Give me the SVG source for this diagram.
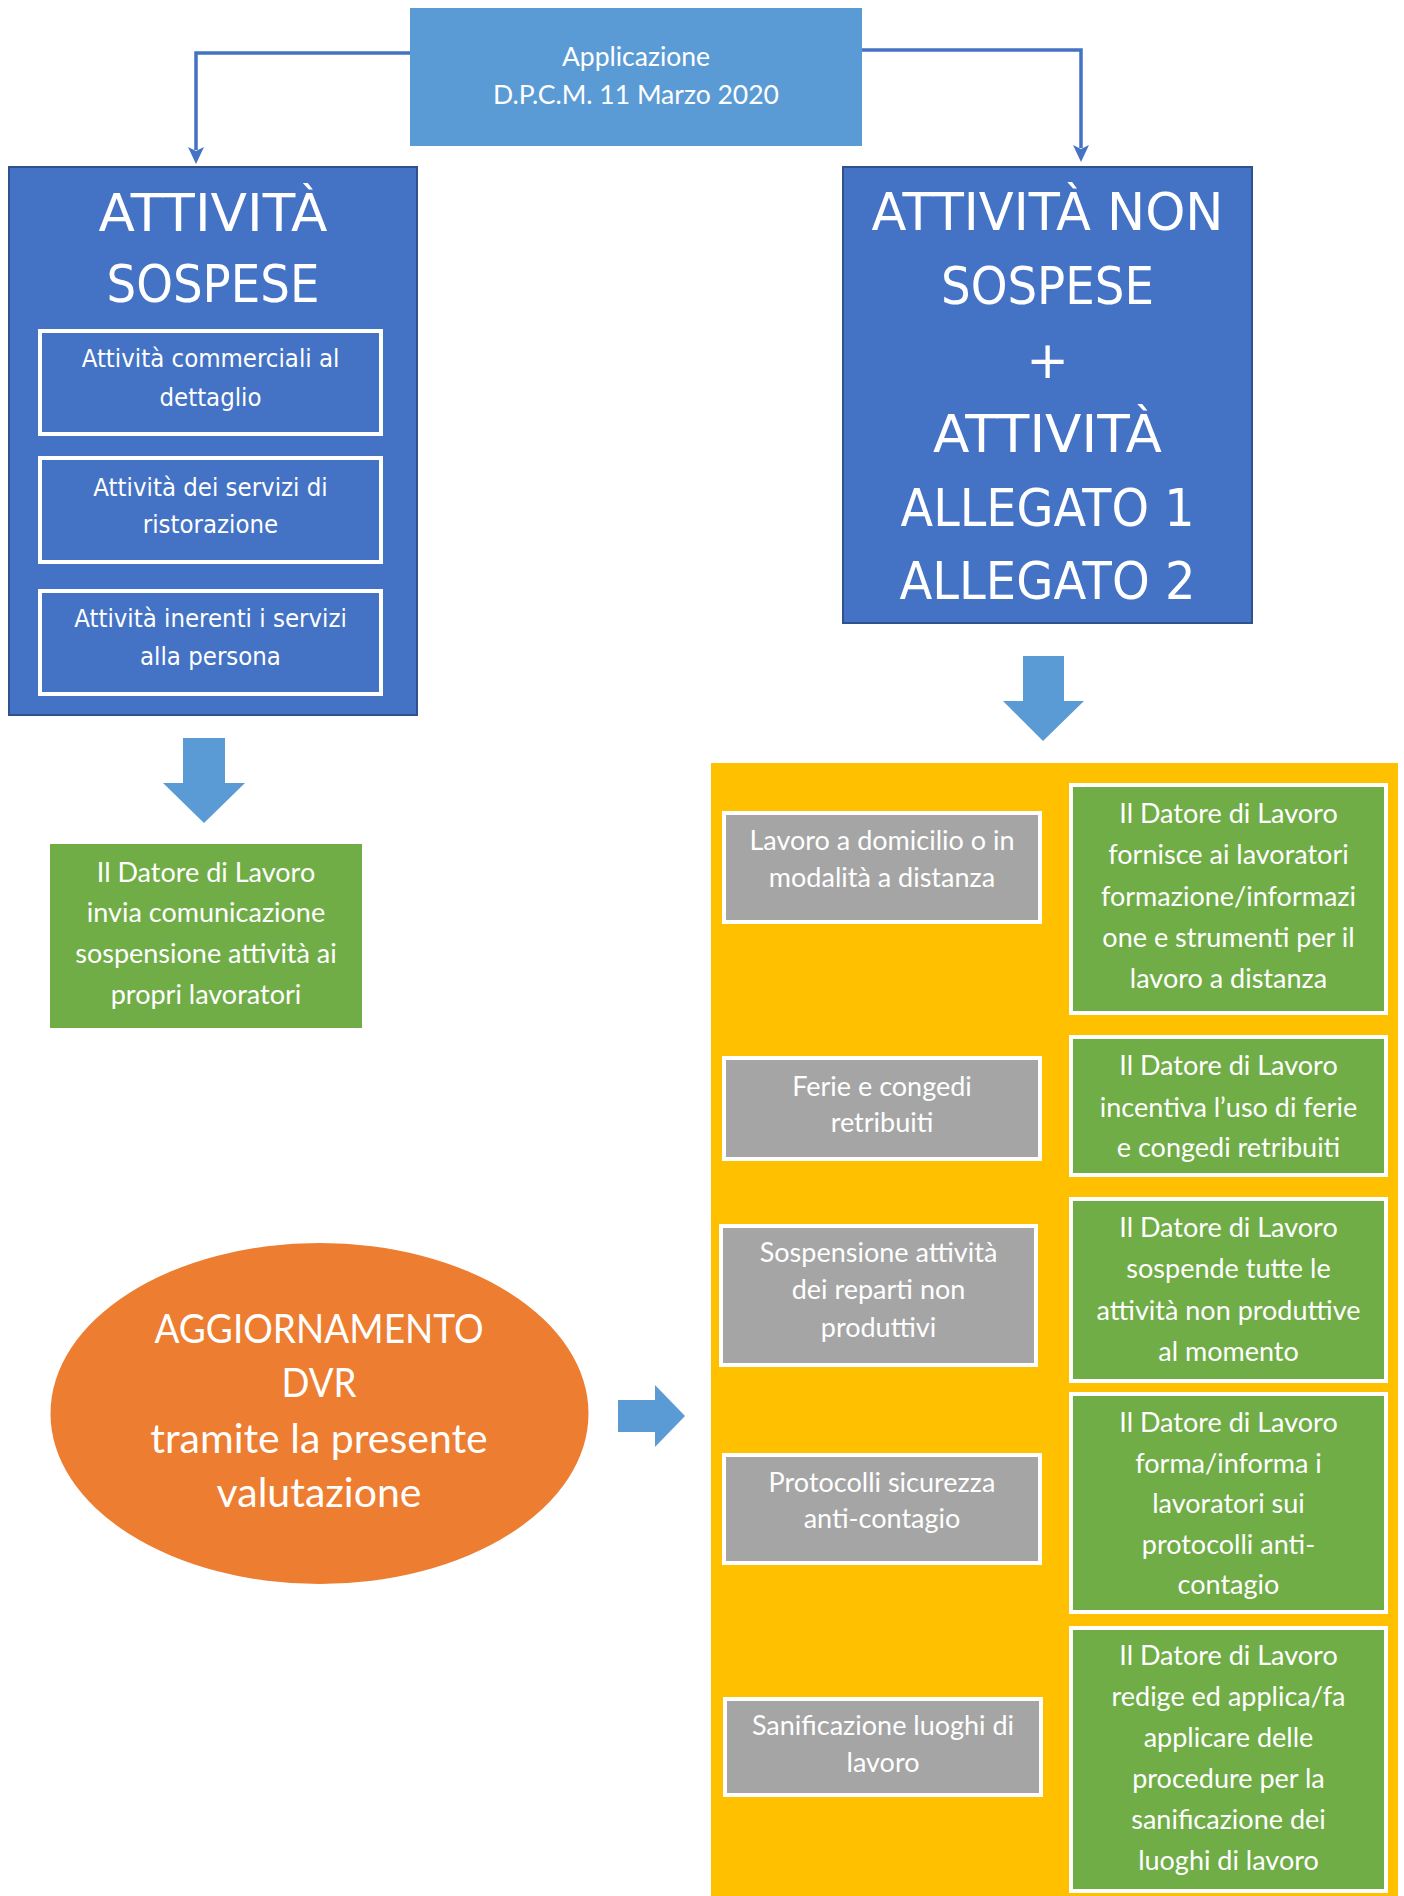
<svg xmlns="http://www.w3.org/2000/svg" width="1404" height="1896" viewBox="0 0 1404 1896">
<style>
.cal{font-family:Lato,'Noto Sans',sans-serif;fill:#fff;text-anchor:middle}
.tah{font-family:'DejaVu Sans Condensed','DejaVu Sans',sans-serif;font-stretch:condensed;fill:#fff;text-anchor:middle}
.ver{font-family:'DejaVu Sans',sans-serif;fill:#fff;text-anchor:middle}
.t29{font-size:27px}
.sub{font-size:25.5px}
.title{font-size:51px}
.big{fill:#4472C4;stroke:#2F528F;stroke-width:2}
.wb{fill:none;stroke:#fff;stroke-width:4}
.gray{fill:#A5A5A5;stroke:#fff;stroke-width:4}
.green{fill:#70AD47;stroke:#fff;stroke-width:4}
.barrow{fill:#5B9BD5}
.conn{fill:none;stroke:#4472C4;stroke-width:3.5}
.head{fill:#4472C4}
</style>
<rect width="1404" height="1896" fill="#fff"/>

<g id="connectors">
<path class="conn" d="M410,53 H196 V150"/>
<path class="conn" d="M862,50 H1081 V148"/>
<polygon class="head" points="188,147 196,151 204,147 196,164"/>
<polygon class="head" points="1073,145 1081,149 1089,145 1081,162"/>
<polygon class="barrow" points="183,738 225,738 225,783 245,783 204,823 163,783 183,783"/>
<polygon class="barrow" points="1023,656 1064,656 1064,701 1084,701 1043,741 1003,701 1023,701"/>
<polygon class="barrow" points="618,1400 655,1400 655,1385 685,1416 655,1447 655,1432 618,1432"/>
</g>

<g id="applicazione">
<rect x="410" y="8" width="452" height="138" fill="#5B9BD5"/>
<text class="cal" font-size="26.5" x="636" y="66">Applicazione</text>
<text class="cal" font-size="26.5" x="636" y="104">D.P.C.M. 11 Marzo 2020</text>
</g>

<g id="attivita-sospese">
<rect class="big" x="9" y="167" width="408" height="548"/>
<text class="ver title" x="213" y="231" textLength="229" lengthAdjust="spacingAndGlyphs">ATTIVITÀ</text>
<text class="ver title" x="213" y="302" textLength="213" lengthAdjust="spacingAndGlyphs">SOSPESE</text>
</g>
<g id="sospese-1">
<rect class="wb" x="40" y="331" width="341" height="103"/>
<text class="tah sub" x="210.5" y="367">Attività commerciali al</text>
<text class="tah sub" x="210.5" y="406">dettaglio</text>
</g>
<g id="sospese-2">
<rect class="wb" x="40" y="458" width="341" height="104"/>
<text class="tah sub" x="210.5" y="496">Attività dei servizi di</text>
<text class="tah sub" x="210.5" y="533">ristorazione</text>
</g>
<g id="sospese-3">
<rect class="wb" x="40" y="591" width="341" height="103"/>
<text class="tah sub" x="210.5" y="627">Attività inerenti i servizi</text>
<text class="tah sub" x="210.5" y="665">alla persona</text>
</g>

<g id="attivita-non-sospese">
<rect class="big" x="843" y="167" width="409" height="456"/>
<text class="ver title" x="1047.5" y="230" textLength="352" lengthAdjust="spacingAndGlyphs">ATTIVITÀ NON</text>
<text class="ver title" x="1047.5" y="304" textLength="213" lengthAdjust="spacingAndGlyphs">SOSPESE</text>
<text class="ver title" x="1047.5" y="378">+</text>
<text class="ver title" x="1047.5" y="452" textLength="229" lengthAdjust="spacingAndGlyphs">ATTIVITÀ</text>
<text class="ver title" x="1047.5" y="526" textLength="294" lengthAdjust="spacingAndGlyphs">ALLEGATO 1</text>
<text class="ver title" x="1047.5" y="599" textLength="296" lengthAdjust="spacingAndGlyphs">ALLEGATO 2</text>
</g>

<g id="comunicazione">
<rect x="50" y="844" width="312" height="184" fill="#70AD47"/>
<text class="cal t29" x="206" y="882">Il Datore di Lavoro</text>
<text class="cal t29" x="206" y="922">invia comunicazione</text>
<text class="cal t29" x="206" y="963">sospensione attività ai</text>
<text class="cal t29" x="206" y="1004">propri lavoratori</text>
</g>

<g id="aggiornamento-dvr">
<ellipse cx="319.5" cy="1413.5" rx="269" ry="170.5" fill="#ED7D31"/>
<text class="cal" font-size="41" x="319" y="1343" textLength="329" lengthAdjust="spacingAndGlyphs">AGGIORNAMENTO</text>
<text class="cal" font-size="41" x="319" y="1397" textLength="75" lengthAdjust="spacingAndGlyphs">DVR</text>
<text class="cal" font-size="41" x="319" y="1453">tramite la presente</text>
<text class="cal" font-size="41" x="319" y="1507">valutazione</text>
</g>

<g id="pannello">
<rect x="711" y="763" width="687" height="1133" fill="#FFC000"/>
</g>

<g id="lavoro-distanza">
<rect class="gray" x="724" y="813" width="316" height="109"/>
<text class="cal t29" x="882" y="850">Lavoro a domicilio o in</text>
<text class="cal t29" x="882" y="887">modalità a distanza</text>
</g>
<g id="ferie">
<rect class="gray" x="724" y="1058" width="316" height="101"/>
<text class="cal t29" x="882" y="1096">Ferie e congedi</text>
<text class="cal t29" x="882" y="1132">retribuiti</text>
</g>
<g id="sospensione-reparti">
<rect class="gray" x="721" y="1226" width="315" height="139"/>
<text class="cal t29" x="878.5" y="1262">Sospensione attività</text>
<text class="cal t29" x="878.5" y="1299">dei reparti non</text>
<text class="cal t29" x="878.5" y="1337">produttivi</text>
</g>
<g id="protocolli">
<rect class="gray" x="724" y="1455" width="316" height="108"/>
<text class="cal t29" x="882" y="1492">Protocolli sicurezza</text>
<text class="cal t29" x="882" y="1528">anti-contagio</text>
</g>
<g id="sanificazione">
<rect class="gray" x="725" y="1699" width="316" height="96"/>
<text class="cal t29" x="883" y="1735">Sanificazione luoghi di</text>
<text class="cal t29" x="883" y="1772">lavoro</text>
</g>

<g id="dl-distanza">
<rect class="green" x="1071" y="785" width="315" height="228"/>
<text class="cal t29" x="1228.5" y="823">Il Datore di Lavoro</text>
<text class="cal t29" x="1228.5" y="864">fornisce ai lavoratori</text>
<text class="cal t29" x="1228.5" y="906">formazione/informazi</text>
<text class="cal t29" x="1228.5" y="947">one e strumenti per il</text>
<text class="cal t29" x="1228.5" y="988">lavoro a distanza</text>
</g>
<g id="dl-ferie">
<rect class="green" x="1071" y="1037" width="315" height="138"/>
<text class="cal t29" x="1228.5" y="1075">Il Datore di Lavoro</text>
<text class="cal t29" x="1228.5" y="1117">incentiva l’uso di ferie</text>
<text class="cal t29" x="1228.5" y="1157">e congedi retribuiti</text>
</g>
<g id="dl-sospende">
<rect class="green" x="1071" y="1199" width="315" height="182"/>
<text class="cal t29" x="1228.5" y="1237">Il Datore di Lavoro</text>
<text class="cal t29" x="1228.5" y="1278">sospende tutte le</text>
<text class="cal t29" x="1228.5" y="1320">attività non produttive</text>
<text class="cal t29" x="1228.5" y="1361">al momento</text>
</g>
<g id="dl-protocolli">
<rect class="green" x="1071" y="1394" width="315" height="218"/>
<text class="cal t29" x="1228.5" y="1432">Il Datore di Lavoro</text>
<text class="cal t29" x="1228.5" y="1473">forma/informa i</text>
<text class="cal t29" x="1228.5" y="1513">lavoratori sui</text>
<text class="cal t29" x="1228.5" y="1554">protocolli anti-</text>
<text class="cal t29" x="1228.5" y="1594">contagio</text>
</g>
<g id="dl-sanificazione">
<rect class="green" x="1071" y="1628" width="315" height="263"/>
<text class="cal t29" x="1228.5" y="1665">Il Datore di Lavoro</text>
<text class="cal t29" x="1228.5" y="1706">redige ed applica/fa</text>
<text class="cal t29" x="1228.5" y="1747">applicare delle</text>
<text class="cal t29" x="1228.5" y="1788">procedure per la</text>
<text class="cal t29" x="1228.5" y="1829">sanificazione dei</text>
<text class="cal t29" x="1228.5" y="1870">luoghi di lavoro</text>
</g>
</svg>
